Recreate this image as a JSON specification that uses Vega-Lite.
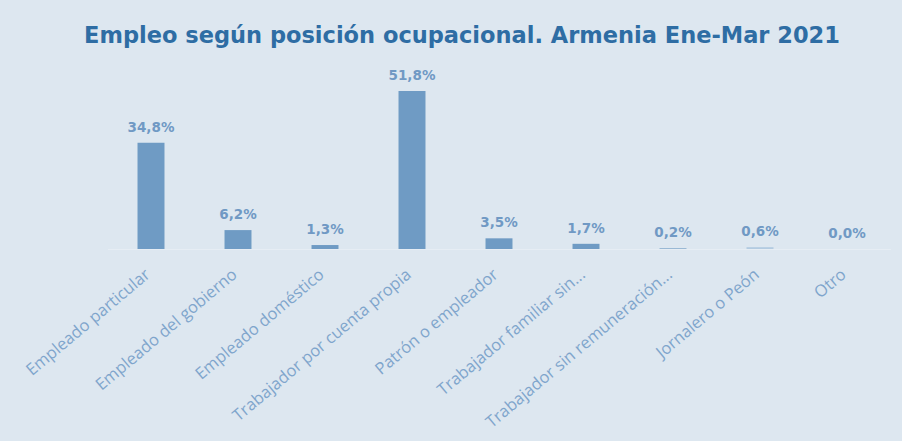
{
  "$schema": "https://vega.github.io/schema/vega-lite/v6.json",
  "autosize": {"type": "none"},
  "width": 783,
  "height": 183,
  "padding": {"left": 107.5, "top": 66, "right": 11.5, "bottom": 192},
  "background": "#dde7f0",
  "config": {
    "view": {"stroke": null},
    "locale": {"number": {"decimal": ",", "thousands": ".", "grouping": [3], "currency": ["", " €"]}}
  },
  "title": {
    "text": "Empleo según posición ocupacional. Armenia Ene-Mar 2021",
    "font": "DejaVu Sans",
    "fontWeight": "bold",
    "fontSize": 22.5,
    "color": "#2e6da4",
    "anchor": "middle",
    "dx": -37,
    "offset": 19
  },
  "data": {
    "values": [
      {"categoria": "Empleado particular", "valor": 0.348},
      {"categoria": "Empleado del gobierno", "valor": 0.062},
      {"categoria": "Empleado doméstico", "valor": 0.013},
      {"categoria": "Trabajador por cuenta propia", "valor": 0.518},
      {"categoria": "Patrón o empleador", "valor": 0.035},
      {"categoria": "Trabajador familiar sin...", "valor": 0.017},
      {"categoria": "Trabajador sin remuneración...", "valor": 0.002},
      {"categoria": "Jornalero o Peón", "valor": 0.006},
      {"categoria": "Otro", "valor": 0.0}
    ]
  },
  "encoding": {
    "x": {
      "field": "categoria",
      "type": "nominal",
      "sort": null,
      "scale": {"paddingInner": 0.69, "paddingOuter": 0.345},
      "axis": {
        "title": null,
        "labelAngle": -40,
        "labelAlign": "right",
        "labelBaseline": "middle",
        "labelFont": "Open Sans",
        "labelFontSize": 16.5,
        "labelColor": "#7fa5cc",
        "labelPadding": 23,
        "labelOffset": -3,
        "labelLimit": 400,
        "ticks": false,
        "domainColor": "#e6edf4",
        "domainWidth": 1
      }
    },
    "y": {
      "field": "valor",
      "type": "quantitative",
      "scale": {"domain": [0, 0.6]},
      "axis": null
    }
  },
  "layer": [
    {
      "mark": {"type": "bar"},
      "encoding": {
        "color": {
          "condition": {"test": "datum.categoria === 'Jornalero o Peón'", "value": "#b3cbe1"},
          "value": "#6f9bc4"
        }
      }
    },
    {
      "mark": {
        "type": "text",
        "baseline": "alphabetic",
        "dy": -11,
        "font": "DejaVu Sans",
        "fontWeight": "bold",
        "fontSize": 13.5,
        "color": "#7099c4"
      },
      "encoding": {
        "text": {"field": "valor", "type": "quantitative", "format": ".1%"}
      }
    }
  ]
}
